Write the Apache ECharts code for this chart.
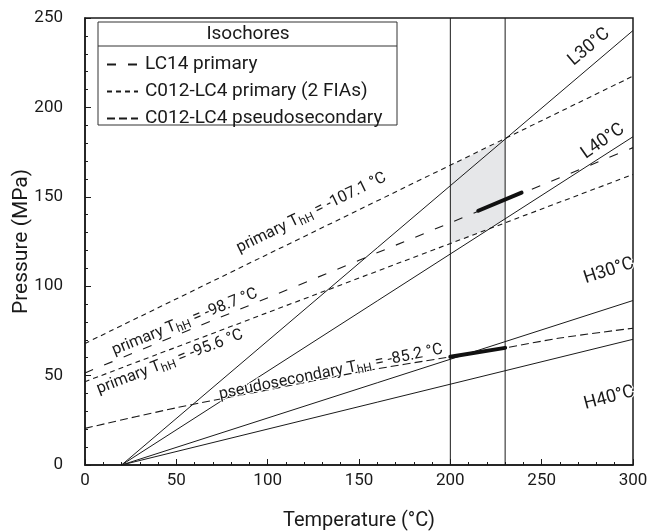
<!DOCTYPE html>
<html>
<head>
<meta charset="utf-8">
<script src="https://cdn.jsdelivr.net/npm/echarts@6/dist/echarts.min.js"></script>
<style>
  html, body { margin: 0; padding: 0; background: #fff; }
  #chart { width: 662px; height: 532px; }
</style>
</head>
<body>
<div id="chart"></div>
<script>
// isochores, [temperature, pressure]
const lineL30 = [[20, 0], [300, 243]]
const lineL40 = [[20, 0], [300, 183.6]]
const lineH30 = [[20, 0], [300, 92]]
const lineH40 = [[20, 0], [300, 70.3]]
const lc14Primary = [[0, 51.5], [300, 177.5]]
const fia107 = [[0, 68], [300, 217.5]]
const fia956 = [[0, 46.6], [300, 162.5]]
const pseudo852 = [[0, 20.5], [50, 32], [100, 42], [150, 52], [200, 60.5], [230, 65.5], [260, 71], [300, 76.5]]
const trap200 = [[200, 0], [200, 250]]
const trap230 = [[230, 0], [230, 250]]
const thickUpper = [[215.3, 142.2], [239, 152.3]]
const thickLower = [[200, 60.5], [230, 65.5]]
const shaded = [[200, 167.4], [230, 182.3], [230, 137.7], [221, 132], [200, 124]]

const font = 'Roboto'
const ink = '#1a1a1a'
const chart = echarts.init(document.getElementById('chart'))

const solid = (data) => ({
  type: 'line', data, symbol: 'none', silent: true,
  lineStyle: { color: ink, width: 1 }, z: 3
})
const dashed = (name, data, dash) => ({
  name, type: 'line', data, symbol: 'none', silent: true, smooth: 0.3,
  itemStyle: { color: ink },
  lineStyle: { color: ink, width: 1.1, type: dash }, z: 3
})

const rich = (size) => ({
  n: { fontSize: size, fontFamily: font, color: ink, lineHeight: 20, textBorderColor: '#fff', textBorderWidth: 2 },
  s: { fontSize: 12, fontFamily: font, color: ink, lineHeight: 20, verticalAlign: 'bottom', padding: [7, 0, 0, 0], textBorderColor: '#fff', textBorderWidth: 2 }
})
const note = (x, y, text, rotate, size) => ({
  value: [x, y],
  label: {
    show: true, position: 'inside', rotate, formatter: text,
    color: ink, opacity: 1,
    rich: rich(size || 16)
  }
})
const notes = [
  note(276, 233.8, '{n|L30°C}', 40, 18),
  note(283.5, 181, '{n|L40°C}', 35, 18),
  note(286.8, 108.5, '{n|H30°C}', 18, 18),
  note(287, 37.5, '{n|H40°C}', 15, 18),
  note(124, 141, '{n|primary T}{s|hH}{n| = -107.1 °C}', 26),
  note(54.7, 80, '{n|primary T}{s|hH}{n| = -98.7 °C}', 22),
  note(46.5, 57.6, '{n|primary T}{s|hH}{n| = -95.6 °C}', 21),
  note(134.6, 52, '{n|pseudosecondary T}{s|hH}{n| = -85.2 °C}', 11.5)
]

chart.setOption({
  animation: false,
  grid: {
    left: 85, right: 29, top: 18, bottom: 67, outerBoundsMode: 'none', containLabel: false,
    show: true, borderColor: ink, borderWidth: 1.5, backgroundColor: 'transparent'
  },
  legend: {
    data: ['LC14 primary', 'C012-LC4 primary (2 FIAs)', 'C012-LC4 pseudosecondary'],
    orient: 'vertical', left: 101, top: 50, itemWidth: 31, itemHeight: 14, itemGap: 8, z: 10,
    itemStyle: { opacity: 0 },
    textStyle: { fontFamily: font, fontSize: 19, color: ink, padding: [0, 0, 0, 2] },
    selectedMode: false
  },
  graphic: [
    { type: 'rect', shape: { x: 98, y: 22, width: 299, height: 103 }, style: { fill: '#fff', stroke: '#333', lineWidth: 1 }, z: 5 },
    { type: 'line', shape: { x1: 98, y1: 46, x2: 397, y2: 46 }, style: { stroke: '#333', lineWidth: 1 }, z: 6 },
    { type: 'text', x: 248, y: 34, style: { text: 'Isochores', font: '19px Roboto', fill: ink, textAlign: 'center', textVerticalAlign: 'middle' }, z: 6 }
  ],
  xAxis: {
    type: 'value', min: 0, max: 300, interval: 50,
    name: 'Temperature (°C)', nameLocation: 'middle', nameGap: 46, nameMoveOverlap: false,
    nameTextStyle: { fontFamily: font, fontSize: 20, color: ink },
    axisLine: { lineStyle: { color: ink, width: 1.5 } },
    axisTick: { inside: true, length: 6, lineStyle: { color: ink } },
    minorTick: { show: true, splitNumber: 5, length: 3, lineStyle: { color: ink } },
    axisLabel: { fontFamily: font, fontSize: 17, color: ink, margin: 7 },
    splitLine: { show: false }
  },
  yAxis: {
    type: 'value', min: 0, max: 250, interval: 50,
    name: 'Pressure (MPa)', nameLocation: 'middle', nameGap: 53, nameMoveOverlap: false,
    nameTextStyle: { fontFamily: font, fontSize: 21, color: ink },
    axisLine: { show: true, lineStyle: { color: ink, width: 1.5 } },
    axisTick: { show: true, inside: true, length: 6, lineStyle: { color: ink } },
    minorTick: { show: true, splitNumber: 5, length: 3, lineStyle: { color: ink } },
    axisLabel: { fontFamily: font, fontSize: 17, color: ink, margin: 22 },
    splitLine: { show: false }
  },
  series: [
    {
      type: 'custom', silent: true, z: 1,
      data: [0],
      renderItem: (params, api) => ({
        type: 'polygon',
        shape: { points: shaded.map(p => api.coord(p)) },
        style: { fill: '#e6e7e9' }
      })
    },
    solid(lineL30), solid(lineL40), solid(lineH30), solid(lineH40),
    solid(trap200), solid(trap230),
    dashed('LC14 primary', lc14Primary, [9, 12]),
    dashed('C012-LC4 primary (2 FIAs)', fia107, [5, 4]),
    dashed('C012-LC4 primary (2 FIAs)', fia956, [5, 4]),
    dashed('C012-LC4 pseudosecondary', pseudo852, [8, 4]),
    {
      type: 'line', data: thickUpper, symbol: 'none', silent: true, z: 4,
      lineStyle: { color: '#111', width: 4, cap: 'round' }
    },
    {
      type: 'line', data: thickLower, symbol: 'none', silent: true, z: 4,
      lineStyle: { color: '#111', width: 4, cap: 'round' }
    },
    {
      type: 'scatter', data: notes, symbolSize: 1, silent: true, z: 7,
      itemStyle: { color: 'rgba(0,0,0,0)' }
    }
  ]
})
</script>
</body>
</html>
